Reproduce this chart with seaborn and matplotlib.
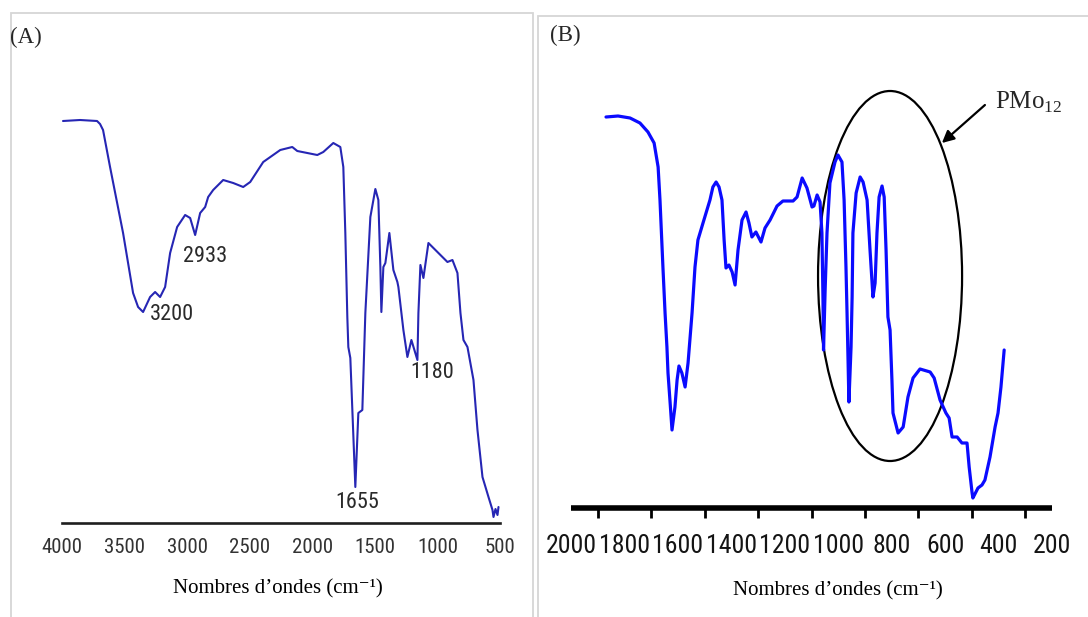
import numpy as np
import pandas as pd
import matplotlib
matplotlib.use("Agg")
import matplotlib.pyplot as plt
from matplotlib.patches import Ellipse, Rectangle
from matplotlib.ticker import MultipleLocator, FixedLocator
import seaborn as sns

# ---------------- data ----------------
# Panel A : IR spectrum, 4000-500 cm-1 (transmittance, arbitrary %)
wn_a = [3992, 3856, 3720, 3696, 3672, 3616, 3512, 3432, 3392, 3352, 3296, 3256, 3216, 3176,
        3136, 3080, 3016, 2976, 2936, 2896, 2856, 2832, 2792, 2712, 2632, 2552,
        2496, 2392, 2256, 2160, 2120, 1960, 1912, 1832, 1776, 1752, 1736, 1720,
        1712, 1696, 1656, 1632, 1600, 1576, 1536, 1496, 1472, 1456, 1448, 1432,
        1416, 1384, 1352, 1320, 1312, 1272, 1240, 1208, 1160, 1152, 1136, 1112,
        1072, 1016, 920, 880, 840, 816, 792, 760, 712, 680, 640, 592, 560, 552,
        536, 520, 512]
t_a = [100.5, 100.75, 100.5, 99.75, 98.25, 89, 72.5, 57.5, 54, 52.75, 56.5, 57.75, 56.5, 59,
       67.5, 74, 77, 76.25, 72, 77.5, 79, 81.5, 83.25, 85.75, 85, 84,
       85.25, 90.25, 93.25, 94, 93, 92, 92.75, 95, 94, 89, 72.5, 51.5,
       44, 41.25, 9, 27.5, 28.25, 52.5, 76.5, 83.5, 80.75, 64, 52.75, 64,
       65, 72.5, 63.25, 60.25, 59, 48.25, 41.5, 45.75, 40.75, 52.5, 64.5, 61.25,
       70, 68.25, 65.25, 65.75, 62.5, 52.5, 45.75, 44, 35.75, 23.25, 11.5, 6.5, 3.25, 1.5,
       3.5, 2, 4]

# Panel B : IR spectrum, 2000-200 cm-1
wn_b = [1869, 1824, 1779, 1742, 1712, 1689, 1674, 1667, 1656, 1648, 1641, 1637,
        1629, 1622, 1611, 1603, 1596, 1585, 1573, 1562, 1547, 1536, 1525, 1506,
        1480, 1469, 1457, 1446, 1435, 1427, 1420, 1409, 1397, 1386, 1375, 1360,
        1345, 1334, 1323, 1308, 1289, 1274, 1255, 1229, 1207, 1169, 1154, 1135,
        1117, 1098, 1091, 1079, 1068, 1061, 1057, 1055, 1049, 1042, 1031, 1012,
        1001, 986, 978, 971, 967, 963, 960, 952, 948, 945, 933, 918, 907, 892,
        881, 870, 862, 855, 847, 836, 828, 821, 814, 806, 799, 795, 776, 757,
        739, 720, 694, 656, 641, 619, 597, 585, 574, 555, 537, 518, 510, 499,
        496, 477, 462, 451, 432, 413, 402, 391, 379]
t_b = [97.75, 98, 97.5, 96.25, 94, 91.25, 85.25, 77, 60.25, 48.75, 40.25, 33.75,
       26.25, 19.5, 25.25, 32, 35.5, 33.75, 30.25, 36.25, 48.75, 60.25, 67, 71.25,
       77, 80.25, 81.5, 80.25, 77, 67, 60, 60.75, 59, 55.75, 64.5, 72,
       74, 71.25, 67.75, 69, 66.5, 70, 72, 75.5, 76.75, 76.75, 77.75, 82.5,
       80, 75.25, 75.5, 78.25, 76.5, 68.75, 52, 39.5, 54.5, 68.75, 81.25, 86.5,
       88.25, 86.5, 77, 60.25, 48.75, 36.25, 26.5, 40.25, 52.75, 68.75, 78.75, 82.75, 81.5, 77,
       64.5, 52.75, 56.25, 68.75, 77.75, 80.5, 77.75, 64.5, 47.75, 44.5, 32, 23.75, 18.75, 20.25,
       27.75, 32.5, 34.75, 34, 32.5, 27, 23.75, 22.5, 17.75, 17.75, 16.25, 16.25, 10.25, 3.75,
       2.5, 5, 5.75, 7, 12.75, 20.25, 23.75, 30.25, 39.5]

ticks_a = [4000, 3500, 3000, 2500, 2000, 1500, 1000, 500]
ticks_b = [2000, 1800, 1600, 1400, 1200, 1000, 800, 600, 400, 200]
peak_labels_a = ["3200", "2933", "1180", "1655"]
peak_wn_a = [3120, 2856, 1040, 1640]
peak_t_a = [52, 66.75, 37.75, 5]
xlabel_text = "Nombres d\u2019ondes (cm\u207b\u00b9)"
region_label = "PMo$_{\\mathregular{12}}$"

# ---------------- style ----------------
sns.set_style("white")
NARROW = ["Liberation Sans Narrow", "Roboto Condensed", "DejaVu Sans Condensed",
          "Open Sans Condensed", "Liberation Sans", "DejaVu Sans"]
plt.rcParams["font.family"] = NARROW
plt.rcParams["font.stretch"] = "condensed"
plt.rcParams["mathtext.fontset"] = "custom"
plt.rcParams["mathtext.rm"] = "Liberation Serif"
SERIF = ["Liberation Serif", "DejaVu Serif"]

W, H = 1088, 617
fig = plt.figure(figsize=(W / 100, H / 100), dpi=100)

# panel frames
fig.patches.append(Rectangle((11 / W, -0.05), (533 - 11) / W, (617 - 13) / H + 0.05,
                             transform=fig.transFigure, fill=False, ec="#d6d6d6", lw=1.3))
fig.patches.append(Rectangle((538 / W, -0.05), 0.6, (617 - 16) / H + 0.05,
                             transform=fig.transFigure, fill=False, ec="#d6d6d6", lw=1.3))

axA = fig.add_axes([62 / W, (H - 523) / H, 438 / W, 423 / H])
axB = fig.add_axes([571 / W, (H - 508) / H, 481 / W, 428 / H])

dfA = pd.DataFrame({"wn": wn_a, "T": t_a})
dfB = pd.DataFrame({"wn": wn_b, "T": t_b})
sns.lineplot(data=dfA, x="wn", y="T", sort=False, estimator=None,
             color="#2626b4", lw=1.5, ax=axA)
sns.lineplot(data=dfB, x="wn", y="T", sort=False, estimator=None,
             color="#0b0bff", lw=2.3, ax=axB)

axA.set_xlim(4000, 500)
axA.set_ylim(0, 105.75)
axB.set_xlim(2000, 200)
axB.set_ylim(0, 107)

for ax in (axA, axB):
    for s in ("left", "right", "top"):
        ax.spines[s].set_visible(False)
    ax.set_yticks([])
    ax.set_ylabel("")
    ax.patch.set_alpha(0)

# panel A axis
axA.spines["bottom"].set_linewidth(1.9)
axA.spines["bottom"].set_color("#1e1e1e")
axA.xaxis.set_major_locator(FixedLocator(ticks_a))
axA.set_xticklabels([str(t) for t in ticks_a])
axA.tick_params(axis="x", direction="in", length=9.5, width=1.2, pad=11,
                labelsize=15, color="#1e1e1e", labelcolor="#333333")

# panel B axis
axB.spines["bottom"].set_linewidth(4)
axB.spines["bottom"].set_color("black")
axB.spines["bottom"].set_capstyle("butt")
axB.xaxis.set_major_locator(FixedLocator(ticks_b))
axB.xaxis.set_minor_locator(MultipleLocator(100))
axB.set_xticklabels([str(t) for t in ticks_b])
axB.tick_params(axis="x", which="major", direction="out", length=13, width=2,
                pad=6, labelsize=18.5, color="black", labelcolor="#141414")
axB.tick_params(axis="x", which="minor", direction="out", length=7, width=2,
                color="black", bottom=True)

# axis titles
for ax, xc, yc in ((axA, (278 - 62) / 438, (523 - 579) / 423),
                   (axB, (838 - 571) / 481, (508 - 581) / 428)):
    ax.set_xlabel(xlabel_text, fontsize=15, family=SERIF, color="black")
    ax.xaxis.label.set_fontstretch("normal")
    ax.xaxis.set_label_coords(xc, yc)

# peak labels in A
for lab, x, y in zip(peak_labels_a, peak_wn_a, peak_t_a):
    axA.text(x, y, lab, ha="center", va="center", fontsize=16, color="#2a2a2a",
             clip_on=False)

# panel letters
fig.text(10 / W, 1 - 27 / H, "(A)", ha="left", va="top", fontsize=16.5,
         family=SERIF, fontstretch="normal")
fig.text(550 / W, 1 - 25 / H, "(B)", ha="left", va="top", fontsize=16.5,
         family=SERIF, fontstretch="normal")

# PMo12 region in B
ell = Ellipse((806, 58), width=539, height=92.5, transform=axB.transData,
              fill=False, ec="black", lw=1.6, clip_on=False)
axB.add_patch(ell)
axB.annotate("", xy=(612, 91.25), xytext=(451, 100.75),
             arrowprops=dict(arrowstyle="-|>", color="black", lw=1.6,
                             mutation_scale=18, shrinkA=0, shrinkB=0),
             annotation_clip=False)
axB.text(413, 101.5, region_label, ha="left", va="center", fontsize=18,
         family=SERIF, fontstretch="normal", clip_on=False)

fig.savefig("out.png", dpi=100)
